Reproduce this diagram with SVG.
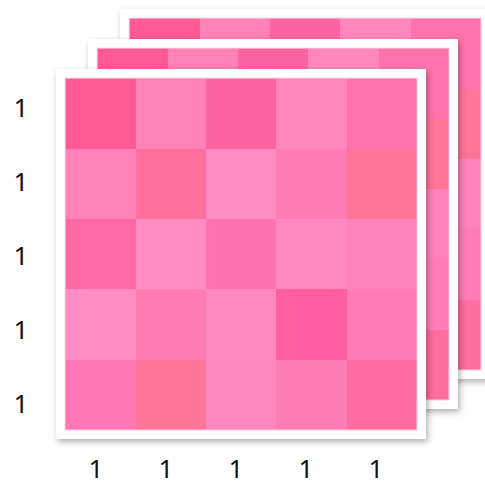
<svg xmlns="http://www.w3.org/2000/svg" xmlns:xlink="http://www.w3.org/1999/xlink" width="485" height="484" viewBox="0 0 485 484">
<style>
.frame{fill:#ffffff;filter:url(#sh)}
.lbl{font-family:"Noto Sans","Open Sans",sans-serif;font-size:26px;fill:#111111;text-anchor:middle}
.edge{fill:none;stroke:#ffb3d1;stroke-width:1}
#grid rect{shape-rendering:crispEdges}
#grid rect.edge{shape-rendering:auto}
</style>
<defs>
<filter id="sh" x="-10%" y="-10%" width="125%" height="125%">
<feDropShadow dx="2" dy="3" stdDeviation="3" flood-color="#000" flood-opacity="0.3"/>
</filter>
<g id="grid">
<rect x="0" y="0" width="71" height="71" fill="#ff5a96"/>
<rect x="70.3" y="0" width="71" height="71" fill="#ff82b6"/>
<rect x="140.6" y="0" width="71" height="71" fill="#ff64a2"/>
<rect x="210.9" y="0" width="71" height="71" fill="#ff87bb"/>
<rect x="281.2" y="0" width="70.3" height="71" fill="#ff73ac"/>
<rect x="0" y="70.3" width="71" height="71" fill="#ff82b9"/>
<rect x="70.3" y="70.3" width="71" height="71" fill="#ff6e9c"/>
<rect x="140.6" y="70.3" width="71" height="71" fill="#ff8dc3"/>
<rect x="210.9" y="70.3" width="71" height="71" fill="#ff7db4"/>
<rect x="281.2" y="70.3" width="70.3" height="71" fill="#ff7599"/>
<rect x="0" y="140.6" width="71" height="71" fill="#ff6aa6"/>
<rect x="70.3" y="140.6" width="71" height="71" fill="#ff8cc3"/>
<rect x="140.6" y="140.6" width="71" height="71" fill="#ff74b0"/>
<rect x="210.9" y="140.6" width="71" height="71" fill="#ff88be"/>
<rect x="281.2" y="140.6" width="70.3" height="71" fill="#ff82bb"/>
<rect x="0" y="210.9" width="71" height="71" fill="#ff8dc3"/>
<rect x="70.3" y="210.9" width="71" height="71" fill="#ff7db3"/>
<rect x="140.6" y="210.9" width="71" height="71" fill="#ff88bf"/>
<rect x="210.9" y="210.9" width="71" height="71" fill="#ff5fa0"/>
<rect x="281.2" y="210.9" width="70.3" height="71" fill="#ff7db6"/>
<rect x="0" y="281.2" width="71" height="70.3" fill="#ff78b5"/>
<rect x="70.3" y="281.2" width="71" height="70.3" fill="#ff7599"/>
<rect x="140.6" y="281.2" width="71" height="70.3" fill="#ff87bf"/>
<rect x="210.9" y="281.2" width="71" height="70.3" fill="#ff7db5"/>
<rect x="281.2" y="281.2" width="70.3" height="70.3" fill="#ff6c9f"/>
<rect class="edge" x="0" y="0" width="351.5" height="351.5"/>
</g>
</defs>
<g id="panel3">
<rect class="frame" x="120" y="9" width="370" height="370"/>
<use xlink:href="#grid" x="129.3" y="18.3"/>
</g>
<g id="panel2">
<rect class="frame" x="88" y="39" width="370" height="370"/>
<use xlink:href="#grid" x="97.3" y="48.3"/>
</g>
<g id="panel1">
<rect class="frame" x="56" y="69" width="370" height="370"/>
<use xlink:href="#grid" x="65.3" y="78.3"/>
</g>
<g id="connectors"></g>
<g id="row-labels">
<text class="lbl" x="21" y="116.7">1</text>
<text class="lbl" x="21" y="190.9">1</text>
<text class="lbl" x="21" y="265">1</text>
<text class="lbl" x="21" y="339.2">1</text>
<text class="lbl" x="21" y="413.3">1</text>
</g>
<g id="col-labels">
<text class="lbl" x="96" y="478">1</text>
<text class="lbl" x="166" y="478">1</text>
<text class="lbl" x="236" y="478">1</text>
<text class="lbl" x="306" y="478">1</text>
<text class="lbl" x="376" y="478">1</text>
</g>
</svg>
